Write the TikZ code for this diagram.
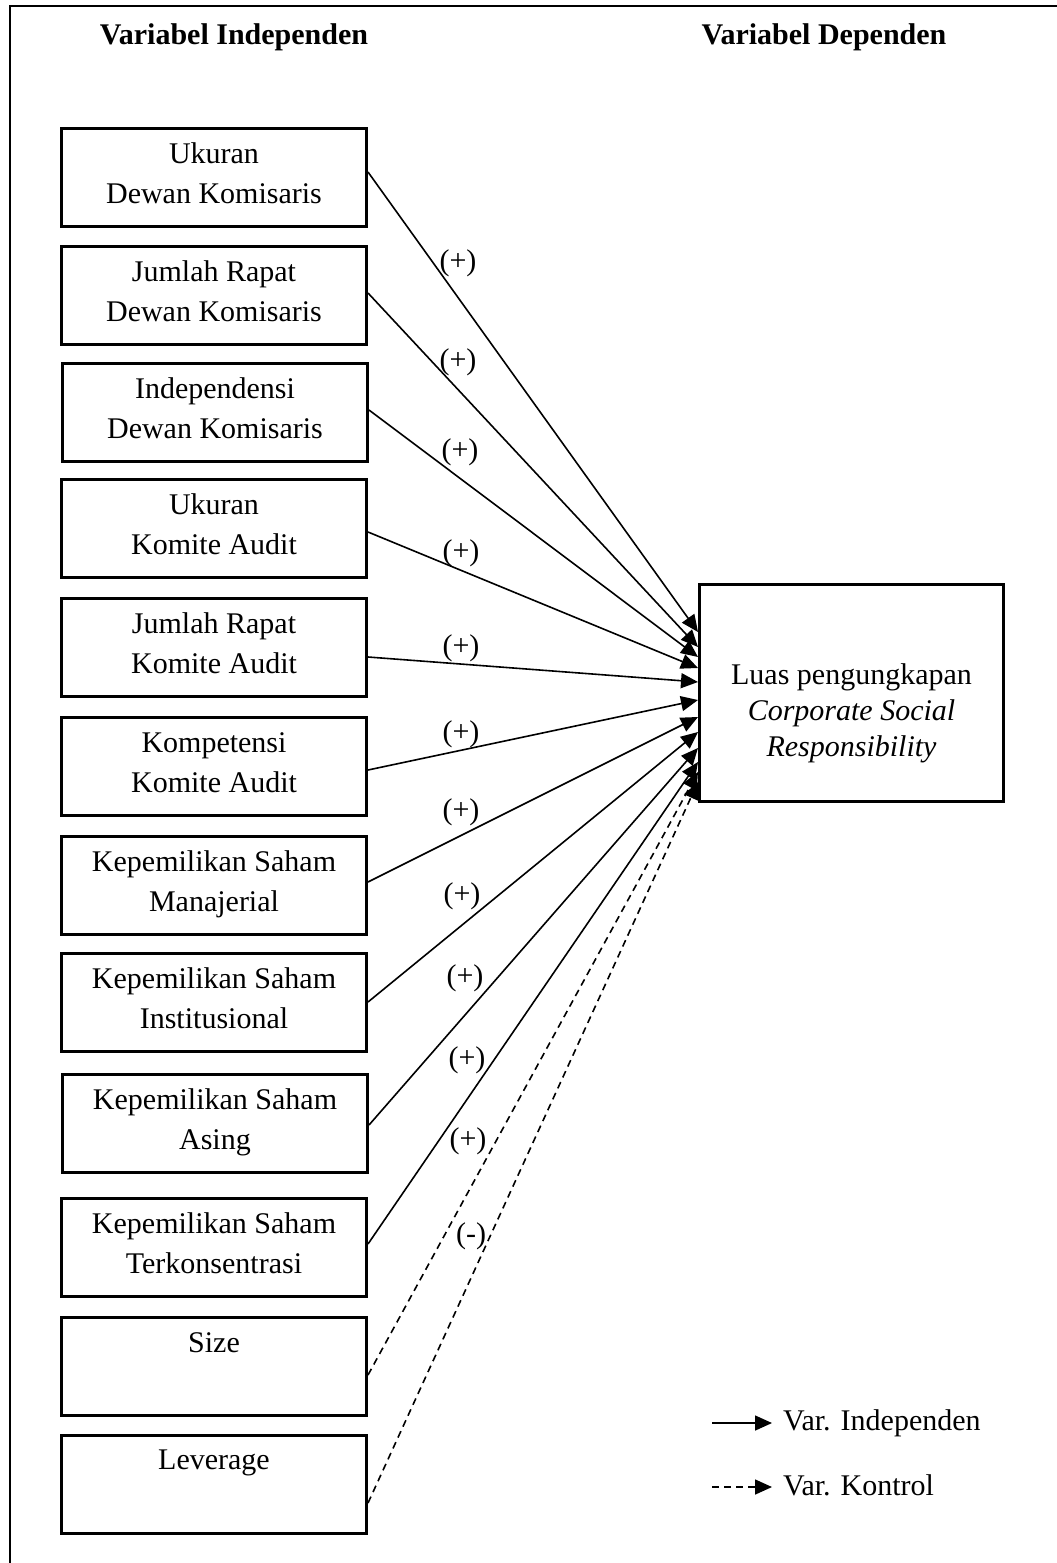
\documentclass[tikz,border=0pt]{standalone}
\usepackage{fontspec}
\setmainfont{Liberation Serif}
\usetikzlibrary{arrows.meta}
\begin{document}
\begin{tikzpicture}[x=1pt,y=-1pt,
  font=\fontsize{30}{40}\selectfont,
  vbox/.style={draw,line width=3pt,minimum width=305pt,minimum height=98pt,
    align=center,inner sep=0pt,execute at begin node=\rule{0pt}{32pt},execute at end node=\rule[-8pt]{0pt}{8pt}},
  tbox/.style={draw,line width=3pt,minimum width=304pt,minimum height=217pt},
  conn/.style={line width=1.6pt,-{Triangle[length=17pt 0 0,width=15pt 0 0]}},
  ctrl/.style={conn,dash pattern=on 7pt off 5pt},
  sign/.style={inner sep=0pt},
  head/.style={font=\fontsize{30}{40}\selectfont\bfseries}]
\useasboundingbox (0,0) rectangle (1057,1563);
% frame
\draw[line width=1.5pt] (10,1563) -- (10,6) -- (1057,6);
% headings
\node[head] (h1) at (234,37) {Variabel Independen};
\node[head] (h2) at (824,37) {Variabel Dependen};
% independent boxes
\node[vbox] (b1) at (214,177.5) {Ukuran\\Dewan Komisaris};
\node[vbox] (b2) at (214,295) {Jumlah Rapat\\Dewan Komisaris};
\node[vbox] (b3) at (215,412) {Independensi\\Dewan Komisaris};
\node[vbox] (b4) at (214,528.5) {Ukuran\\Komite Audit};
\node[vbox] (b5) at (214,647) {Jumlah Rapat\\Komite Audit};
\node[vbox] (b6) at (214,766.5) {Kompetensi\\Komite Audit};
\node[vbox] (b7) at (214,885) {Kepemilikan Saham\\Manajerial};
\node[vbox] (b8) at (214,1002) {Kepemilikan Saham\\Institusional};
\node[vbox] (b9) at (215,1123) {Kepemilikan Saham\\Asing};
\node[vbox] (b10) at (214,1247) {Kepemilikan Saham\\Terkonsentrasi};
\node[vbox] (b11) at (214,1366.5) {Size\\};
\node[vbox] (b12) at (214,1484) {Leverage\\};
% dependent box
\node[tbox] (t) at (851.5,693) {};
\node[align=center,font=\fontsize{30}{36}\selectfont,execute at begin node=\strut,execute at end node=\strut] (tt) at (851.5,715)
  {Luas pengungkapan\\\textit{Corporate Social}\\\textit{Responsibility}};
% connectors
\draw[conn] ([yshift=5.5pt]b1.east) -- ([yshift=61pt]t.west);
\draw[conn] ([yshift=2pt]b2.east) -- ([yshift=46pt]t.west);
\draw[conn] ([yshift=2pt]b3.east) -- ([yshift=36pt]t.west);
\draw[conn] ([yshift=-3.5pt]b4.east) -- ([yshift=25pt]t.west);
\draw[conn] ([yshift=-10pt]b5.east) -- ([yshift=11pt]t.west);
\draw[conn] ([yshift=-3.5pt]b6.east) -- ([yshift=-7pt]t.west);
\draw[conn] ([yshift=3pt]b7.east) -- ([yshift=-24pt]t.west);
\draw[conn] (b8.east) -- ([yshift=-39pt]t.west);
\draw[conn] ([yshift=-2pt]b9.east) -- ([yshift=-55pt]t.west);
\draw[conn] ([yshift=3pt]b10.east) -- ([yshift=-69pt]t.west);
\draw[ctrl] ([yshift=-8.5pt]b11.east) -- ([yshift=-79pt]t.west);
\draw[ctrl] ([yshift=-19pt]b12.east) -- ([yshift=-89pt]t.west);
% signs
\node[sign] (s1) at (458,263) {(+)};
\node[sign] (s2) at (458,362) {(+)};
\node[sign] (s3) at (460,452) {(+)};
\node[sign] (s4) at (461,553) {(+)};
\node[sign] (s5) at (461,648) {(+)};
\node[sign] (s6) at (461,734) {(+)};
\node[sign] (s7) at (461,812) {(+)};
\node[sign] (s8) at (462,896) {(+)};
\node[sign] (s9) at (465,978) {(+)};
\node[sign] (s10) at (467,1060) {(+)};
\node[sign] (s11) at (468,1141) {(+)};
\node[sign] (s12) at (471,1236) {(-)};
% legend
\coordinate (la1) at (712,1423);
\coordinate (lb1) at (772,1423);
\coordinate (la2) at (712,1487);
\coordinate (lb2) at (772,1487);
\draw[conn] (la1) -- (lb1);
\draw[ctrl] (la2) -- (lb2);
\node[anchor=base west,inner sep=0pt] (lg1) at (783,1430) {Var. Independen};
\node[anchor=base west,inner sep=0pt] (lg2) at (783,1495) {Var. Kontrol};
\end{tikzpicture}
\end{document}
